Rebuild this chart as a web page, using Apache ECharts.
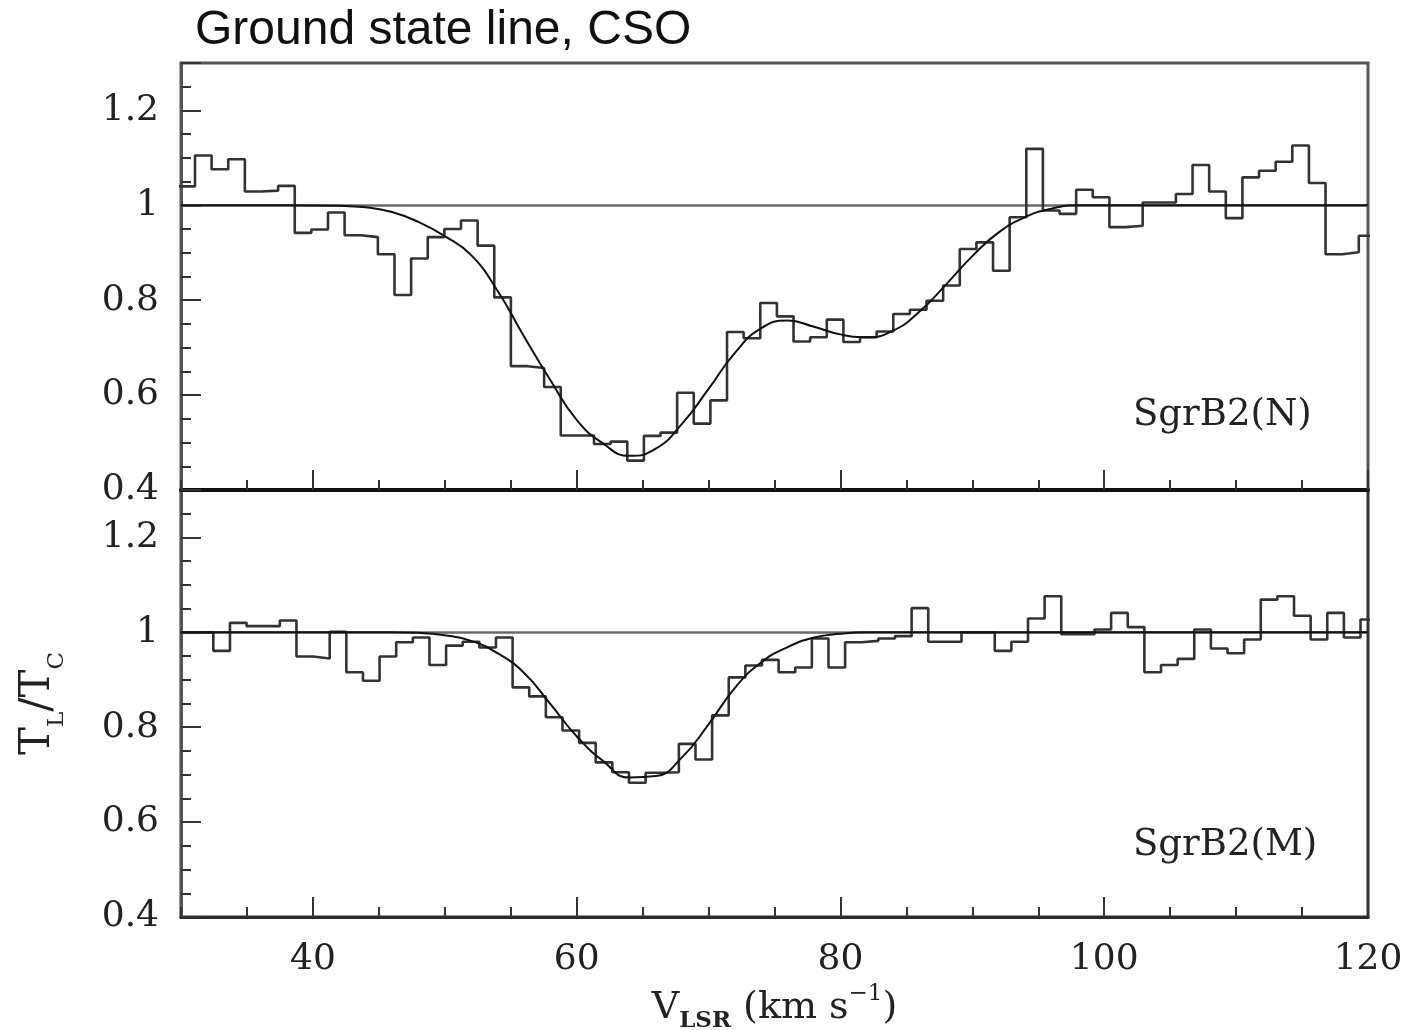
<!DOCTYPE html>
<html>
<head>
<meta charset="utf-8">
<script src="https://cdn.jsdelivr.net/npm/echarts@6/dist/echarts.min.js"></script>
<style>html,body{margin:0;padding:0;background:#fff}#c{width:1416px;height:1030px}</style>
</head>
<body>
<div id="c"></div>
<script>
// Channel grid (km/s): left edge of the first channel and channel width
const channelWidth = 1.2606;
const topStartV = 29.80;
const bottomStartV = 29.93;

// SgrB2(N) observed T_L/T_C per channel
const sgrB2N = [1.04, 1.105, 1.076, 1.097, 1.029, 1.031, 1.041, 0.942, 0.949, 0.985,
  0.937, 0.933, 0.897, 0.811, 0.888, 0.933, 0.95, 0.968, 0.915, 0.806,
  0.661, 0.657, 0.617, 0.515, 0.515, 0.497, 0.502, 0.462, 0.514, 0.521,
  0.605, 0.540, 0.589, 0.733, 0.720, 0.794, 0.766, 0.713, 0.722, 0.759,
  0.712, 0.722, 0.734, 0.771, 0.78, 0.799, 0.831, 0.908, 0.922, 0.862,
  0.975, 1.119, 0.989, 0.982, 1.033, 1.017, 0.954, 0.957, 1.006, 1.006,
  1.024, 1.085, 1.029, 0.973, 1.059, 1.073, 1.092, 1.126, 1.047, 0.897,
  0.901, 0.936];

// SgrB2(M) observed T_L/T_C per channel
const sgrB2M = [1.0, 1.0, 0.961, 1.02, 1.013, 1.013, 1.025, 0.949, 0.945, 1.001,
  0.916, 0.898, 0.949, 0.979, 0.989, 0.931, 0.972, 0.98, 0.968, 0.989,
  0.884, 0.865, 0.821, 0.793, 0.767, 0.726, 0.705, 0.683, 0.704, 0.705,
  0.765, 0.732, 0.825, 0.905, 0.93, 0.942, 0.916, 0.926, 0.987, 0.926,
  0.979, 0.982, 0.987, 0.992, 1.051, 0.98, 0.98, 1.0, 1.0, 0.961,
  0.98, 1.029, 1.076, 0.996, 0.996, 1.006, 1.041, 1.011, 0.916, 0.931,
  0.944, 1.006, 0.966, 0.956, 0.985, 1.069, 1.076, 1.035, 0.985, 1.041,
  0.989, 1.027];

// Gaussian fit curves: [velocity, T_L/T_C]
const fitN = [[30,1.0],[34,1.0],[38,1.0],[42,0.999],[44,0.996],[46,0.986],[48,0.965],[50,0.935],
  [52,0.895],[54,0.820],[56,0.724],[58,0.632],[60,0.548],[62,0.498],[64,0.472],[66,0.487],
  [68,0.540],[70,0.613],[72,0.689],[74,0.741],[76,0.757],[78,0.744],[80,0.728],[82,0.722],
  [84,0.736],[86,0.776],[88,0.833],[90,0.893],[92,0.943],[94,0.975],[96,0.993],[98,1.0],
  [100,1.0],[104,1.0],[108,1.0],[112,1.0],[116,1.0],[120,1.0]];
const fitM = [[30,1.0],[34,1.0],[38,1.0],[42,1.0],[46,1.0],[48,0.999],[50,0.994],[52,0.982],
  [54,0.956],[56,0.915],[58,0.849],[60,0.781],[62,0.729],[64,0.694],[66,0.697],[68,0.737],
  [70,0.806],[72,0.883],[74,0.937],[76,0.969],[78,0.989],[80,0.997],[82,1.0],[84,1.0],
  [88,1.0],[92,1.0],[96,1.0],[100,1.0],[104,1.0],[108,1.0],[112,1.0],[116,1.0],[120,1.0]];

const xMajorTicks = [40, 60, 80, 100, 120];
const continuumLevel = 1.0;
const panelLabels = ['SgrB2(N)', 'SgrB2(M)'];
const chartTitle = 'Ground state line, CSO';

function stepData(start, vals) {
  const d = vals.map((v, i) => [start + i * channelWidth, v]);
  d.push([start + vals.length * channelWidth, vals[vals.length - 1]]);
  return d;
}

const SERIF = '"DejaVu Serif", "Liberation Serif", serif';
const tickColor = '#333';

function xMain(grid, withLabels) {
  return {
    gridIndex: grid, type: 'value', min: 30, max: 120, interval: 10, position: 'bottom',
    axisLine: { show: true, onZero: false, lineStyle: { color: grid === 0 ? '#111' : '#2a2a2a', width: grid === 0 ? 4 : 3 } },
    axisTick: { show: true, inside: true, length: 20, customValues: xMajorTicks, lineStyle: { color: tickColor, width: 2 } },
    axisLabel: withLabels ? { show: true, customValues: xMajorTicks, fontFamily: SERIF, fontSize: 36, color: '#222', margin: 25 } : { show: false },
    splitLine: { show: false },
    name: withLabels ? '{v|V}{sub|LSR}{v| (km s}{sup|\u22121}{v|)}' : '',
    nameLocation: 'middle', nameGap: 66,
    nameTextStyle: {
      fontFamily: SERIF, color: '#222',
      rich: {
        v: { fontFamily: SERIF, fontSize: 38, color: '#222', lineHeight: 38, verticalAlign: 'middle' },
        sub: { fontFamily: SERIF, fontSize: 23, fontWeight: 'bold', color: '#222', lineHeight: 50, verticalAlign: 'bottom' },
        sup: { fontFamily: SERIF, fontSize: 23, color: '#222', lineHeight: 23, verticalAlign: 'top' }
      }
    }
  };
}
function xMinor(grid) {
  return {
    gridIndex: grid, type: 'value', min: 30, max: 120, interval: 5, position: 'bottom',
    axisLine: { show: false }, axisLabel: { show: false }, splitLine: { show: false },
    axisTick: { show: true, inside: true, length: 10, lineStyle: { color: tickColor, width: 2 } }
  };
}
function yMain(grid, withName) {
  return {
    gridIndex: grid, type: 'value', min: 0.4, max: 1.3, interval: 0.2, position: 'left',
    axisLine: { show: true, onZero: false, lineStyle: { color: '#555', width: 3 } },
    axisTick: { show: true, inside: true, length: 20, lineStyle: { color: tickColor, width: 2 } },
    axisLabel: {
      fontFamily: SERIF, fontSize: 36, color: '#222', margin: 22,
      formatter: v => (Math.abs(v - 1.3) < 1e-6 ? '' : String(Math.round(v * 100) / 100))
    },
    splitLine: { show: false },
    name: withName ? '{t|T}{s|L}{t|/T}{s|C}' : '',
    nameLocation: 'middle', nameRotate: 90, nameGap: 112,
    nameTextStyle: {
      fontFamily: SERIF, color: '#222',
      rich: {
        t: { fontFamily: SERIF, fontSize: 42, color: '#222', lineHeight: 42, verticalAlign: 'middle' },
        s: { fontFamily: SERIF, fontSize: 23, color: '#222', lineHeight: 62, verticalAlign: 'bottom' }
      }
    }
  };
}
function yMinor(grid) {
  return {
    gridIndex: grid, type: 'value', min: 0.4, max: 1.3, interval: 0.05, position: 'left',
    axisLine: { show: false }, axisLabel: { show: false }, splitLine: { show: false },
    axisTick: { show: true, inside: true, length: 10, lineStyle: { color: tickColor, width: 2 } }
  };
}

function stepSeries(xi, yi, data) {
  return {
    type: 'line', xAxisIndex: xi, yAxisIndex: yi, step: 'end', data: data,
    symbol: 'none', showSymbol: false, clip: true, z: 3,
    lineStyle: { color: '#333', width: 2.6 }
  };
}
function fitSeries(xi, yi, data) {
  return {
    type: 'line', xAxisIndex: xi, yAxisIndex: yi, data: data, smooth: 0.5,
    symbol: 'none', showSymbol: false, z: 4,
    lineStyle: { color: '#111', width: 2 },
    markLine: {
      silent: true, symbol: ['none', 'none'], label: { show: false }, z: 2,
      lineStyle: { color: '#6a6a6a', width: 2.5, type: 'solid' },
      data: [{ yAxis: continuumLevel }]
    }
  };
}

const chart = echarts.init(document.getElementById('c'), null, { renderer: 'canvas' });
chart.setOption({
  animation: false,
  backgroundColor: '#fff',
  grid: [
    { left: 181, top: 63, width: 1187, height: 427, outerBoundsMode: 'none', containLabel: false, show: true, borderColor: '#555', borderWidth: 3, backgroundColor: 'transparent' },
    { left: 181, top: 490, width: 1187, height: 427, outerBoundsMode: 'none', containLabel: false, show: true, borderColor: '#333', borderWidth: 3, backgroundColor: 'transparent' }
  ],
  xAxis: [xMain(0, false), xMinor(0), xMain(1, true), xMinor(1)],
  yAxis: [yMain(0, false), yMinor(0), yMain(1, true), yMinor(1)],
  series: [
    stepSeries(0, 0, stepData(topStartV, sgrB2N)),
    fitSeries(0, 0, fitN),
    stepSeries(2, 2, stepData(bottomStartV, sgrB2M)),
    fitSeries(2, 2, fitM)
  ],
  graphic: [
    { type: 'text', x: 195, y: 31, style: { text: chartTitle, fontFamily: '"Liberation Sans", Arial, sans-serif', fontSize: 48, fill: '#111', verticalAlign: 'middle', align: 'left' } },
    { type: 'text', x: 1133, y: 415, style: { text: panelLabels[0], fontFamily: SERIF, fontSize: 37, fill: '#222', verticalAlign: 'middle', align: 'left' } },
    { type: 'text', x: 1133, y: 845, style: { text: panelLabels[1], fontFamily: SERIF, fontSize: 37, fill: '#222', verticalAlign: 'middle', align: 'left' } }
  ]
});
</script>
</body>
</html>
